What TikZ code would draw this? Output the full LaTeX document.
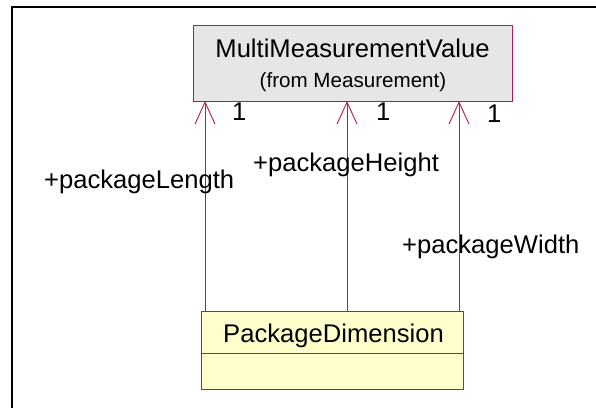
\documentclass[tikz,border=0pt]{standalone}
\usepackage{fontspec}
\setmainfont{Liberation Sans}
\usetikzlibrary{arrows.meta}
\definecolor{umlred}{RGB}{175,25,85}
\definecolor{boxgray}{RGB}{230,230,230}
\definecolor{boxyellow}{RGB}{255,255,204}
\tikzset{
  classbox/.style={draw=umlred, line width=1pt, inner sep=0pt, outer sep=0pt},
  bigtext/.style={inner sep=0pt, font=\fontsize{25.6}{30}\selectfont},
  smalltext/.style={inner sep=0pt, font=\fontsize{20.6}{24}\selectfont},
  assoc/.style={draw=umlred, line width=0.9pt, -{Straight Barb[length=22pt,width=20pt,line width=0.9pt]}}
}
\begin{document}
\begin{tikzpicture}[x=1pt,y=-1pt]
\useasboundingbox (0,0) rectangle (596,407);
\clip (0,0) rectangle (596,407);
\draw[line width=2pt] (12,430) -- (12,7) -- (620,7);
% MultiMeasurementValue box
\node[classbox, fill=boxgray, minimum width=319pt, minimum height=76pt] (mmv) at (352.5,63) {};
\node[bigtext, anchor=base] (mname) at (352.5,57) {MultiMeasurementValue};
\node[smalltext, anchor=base] (mfrom) at (353,87) {(from Measurement)};
% PackageDimension box
\node[classbox, fill=boxyellow, minimum width=262pt, minimum height=42pt] (pd) at (332,332) {};
\node[classbox, fill=boxyellow, minimum width=262pt, minimum height=36pt, anchor=north] (pdattr) at (pd.south) {};
\node[bigtext, anchor=base] (pname) at (333.5,342) {PackageDimension};
% connectors
\draw[assoc] (pd.north -| 205,0) -- (mmv.south -| 205,0);
\draw[assoc] (pd.north -| 347,0) -- (mmv.south -| 347,0);
\draw[assoc] (pd.north -| 459,0) -- (mmv.south -| 459,0);
% labels
\node[bigtext, anchor=base west] (r1) at (44,188) {+packageLength};
\node[bigtext, anchor=base west] (r2) at (253,171) {+packageHeight};
\node[bigtext, anchor=base west] (r3) at (402,253) {+packageWidth};
\node[bigtext, anchor=base west] (m1) at (232,120) {1};
\node[bigtext, anchor=base west] (m2) at (376,120) {1};
\node[bigtext, anchor=base west] (m3) at (487,122) {1};
\end{tikzpicture}
\end{document}
